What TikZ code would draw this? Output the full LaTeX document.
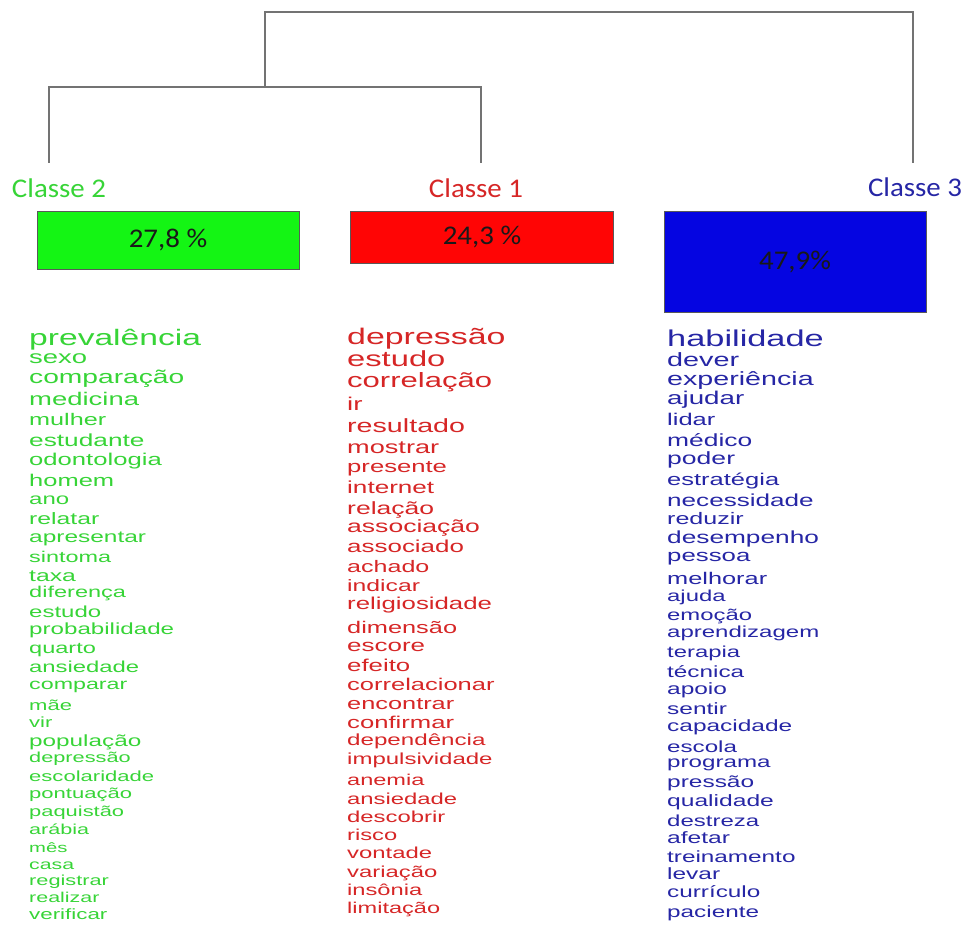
\documentclass[tikz,border=0pt]{standalone}
\usepackage{fontspec}
\newfontfamily\wordfont[FakeStretch=1.5]{Liberation Sans}
\newfontfamily\labelfont[FakeStretch=1.07]{Carlito}
\definecolor{verde}{RGB}{55,212,55}
\definecolor{vermelho}{RGB}{214,38,38}
\definecolor{azul}{RGB}{38,38,165}
\definecolor{boxverde}{RGB}{20,245,20}
\definecolor{boxvermelho}{RGB}{255,5,5}
\definecolor{boxazul}{RGB}{5,5,225}
\definecolor{ramo}{RGB}{115,115,115}
\newcommand{\wsize}[1]{\wordfont\fontsize{#1}{#1}\selectfont}
\tikzset{
  sz/.style={font=\wsize{#1}, yshift={2.15-0.26*#1}},
  classe/.style={font=\labelfont\fontsize{27}{27}\selectfont, inner sep=0pt},
  caixa/.style={draw=black!65, line width=0.8pt, inner sep=0pt,
                font=\labelfont\fontsize{27}{27}\selectfont, text=black!90},
}
\begin{document}
\begin{tikzpicture}[x=1pt,y=-1pt]
\useasboundingbox (0,0) rectangle (964,925);
% dendrogram
\coordinate (d2) at (49,163);
\coordinate (d1) at (481,163);
\coordinate (d3) at (913,163);
\coordinate (j12) at (265,87);
\coordinate (top) at (589,12);
\draw[ramo, line width=1.3pt] (d2) |- (j12) -| (d1);
\draw[ramo, line width=1.3pt] (j12) |- (top) -| (d3);
% classes
\node[classe, text=verde] (c2) at (59,188) {Classe 2};
\node[classe, text=vermelho] (c1) at (476,188) {Classe 1};
\node[classe, text=azul] (c3) at (915,187) {Classe 3};
\node[caixa, fill=boxverde, minimum width=262, minimum height=58] (box2) at (168,240) {27,8 \%};
\node[caixa, fill=boxvermelho, minimum width=263, minimum height=52] (box1) at (482,237) {24,3 \%};
\node[caixa, fill=boxazul, minimum width=262, minimum height=101] (box3) at (795,262) {47,9\%};
% classe 2
\begin{scope}[every node/.style={anchor=mid west, inner sep=0pt, text=verde}]
  \node[sz=22.4] (g1) at (29,340) {prevalência};
  \node[sz=18.3] (g2) at (29,359) {sexo};
  \node[sz=18.8] (g3) at (29,379) {comparação};
  \node[sz=18.3] (g4) at (29,401) {medicina};
  \node[sz=16.8] (g5) at (29,421) {mulher};
  \node[sz=17.5] (g6) at (29,442) {estudante};
  \node[sz=17.1] (g7) at (29,461) {odontologia};
  \node[sz=17] (g8) at (29,482) {homem};
  \node[sz=16] (g9) at (29,500) {ano};
  \node[sz=16.5] (g10) at (29,520) {relatar};
  \node[sz=16.3] (g11) at (29,538) {apresentar};
  \node[sz=15.6] (g12) at (29,558) {sintoma};
  \node[sz=16.5] (g13) at (29,577) {taxa};
  \node[sz=15.7] (g14) at (29,593) {diferença};
  \node[sz=16] (g15) at (29,613) {estudo};
  \node[sz=16.1] (g16) at (29,630) {probabilidade};
  \node[sz=15.7] (g17) at (29,649) {quarto};
  \node[sz=15.9] (g18) at (29,668) {ansiedade};
  \node[sz=15.5] (g19) at (29,685) {comparar};
  \node[sz=14.7] (g20) at (29,707) {mãe};
  \node[sz=14.7] (g21) at (29,724) {vir};
  \node[sz=16.2] (g22) at (29,742) {população};
  \node[sz=14.5] (g23) at (29,759) {depressão};
  \node[sz=14.7] (g24) at (29,778) {escolaridade};
  \node[sz=14.7] (g25) at (29,795) {pontuação};
  \node[sz=14.6] (g26) at (29,813) {paquistão};
  \node[sz=14.4] (g27) at (29,831) {arábia};
  \node[sz=13.5] (g28) at (29,849) {mês};
  \node[sz=14.2] (g29) at (29,866) {casa};
  \node[sz=14.5] (g30) at (29,882) {registrar};
  \node[sz=14.3] (g31) at (29,899) {realizar};
  \node[sz=14.9] (g32) at (29,916) {verificar};
\end{scope}
% classe 1
\begin{scope}[every node/.style={anchor=mid west, inner sep=0pt, text=vermelho}]
  \node[sz=22.6] (r1) at (347,339) {depressão};
  \node[sz=21.8] (r2) at (347,361) {estudo};
  \node[sz=20.7] (r3) at (347,382) {correlação};
  \node[sz=18.5] (r4) at (347,406) {ir};
  \node[sz=19.1] (r5) at (347,428) {resultado};
  \node[sz=18.1] (r6) at (347,449) {mostrar};
  \node[sz=17.1] (r7) at (347,468) {presente};
  \node[sz=17.4] (r8) at (347,489) {internet};
  \node[sz=17.7] (r9) at (347,510) {relação};
  \node[sz=17.7] (r10) at (347,528) {associação};
  \node[sz=17.3] (r11) at (347,548) {associado};
  \node[sz=16.7] (r12) at (347,568) {achado};
  \node[sz=16.5] (r13) at (347,587) {indicar};
  \node[sz=17.2] (r14) at (347,605) {religiosidade};
  \node[sz=16.9] (r15) at (347,629) {dimensão};
  \node[sz=17.3] (r16) at (347,647) {escore};
  \node[sz=17.2] (r17) at (347,667) {efeito};
  \node[sz=17] (r18) at (347,686) {correlacionar};
  \node[sz=16.9] (r19) at (347,705) {encontrar};
  \node[sz=17.1] (r20) at (347,724) {confirmar};
  \node[sz=16.1] (r21) at (347,741) {dependência};
  \node[sz=16] (r22) at (347,760) {impulsividade};
  \node[sz=15.7] (r23) at (347,781) {anemia};
  \node[sz=15.9] (r24) at (347,800) {ansiedade};
  \node[sz=15.9] (r25) at (347,818) {descobrir};
  \node[sz=15.8] (r26) at (347,836) {risco};
  \node[sz=15.9] (r27) at (347,854) {vontade};
  \node[sz=15.9] (r28) at (347,873) {variação};
  \node[sz=15.8] (r29) at (347,891) {insônia};
  \node[sz=15.7] (r30) at (347,909) {limitação};
\end{scope}
% classe 3
\begin{scope}[every node/.style={anchor=mid west, inner sep=0pt, text=azul}]
  \node[sz=22.9] (b1) at (667,341) {habilidade};
  \node[sz=19.2] (b2) at (667,362) {dever};
  \node[sz=19.1] (b3) at (667,381) {experiência};
  \node[sz=18.5] (b4) at (667,400) {ajudar};
  \node[sz=17] (b5) at (667,421) {lidar};
  \node[sz=17.6] (b6) at (667,442) {médico};
  \node[sz=17.7] (b7) at (667,460) {poder};
  \node[sz=17] (b8) at (667,481) {estratégia};
  \node[sz=17.4] (b9) at (667,502) {necessidade};
  \node[sz=16.7] (b10) at (667,520) {reduzir};
  \node[sz=17.5] (b11) at (667,539) {desempenho};
  \node[sz=17.2] (b12) at (667,557) {pessoa};
  \node[sz=16.9] (b13) at (667,580) {melhorar};
  \node[sz=15.9] (b14) at (667,597) {ajuda};
  \node[sz=15.9] (b15) at (667,616) {emoção};
  \node[sz=16] (b16) at (667,633) {aprendizagem};
  \node[sz=15.9] (b17) at (667,653) {terapia};
  \node[sz=16.2] (b18) at (667,673) {técnica};
  \node[sz=16.3] (b19) at (667,690) {apoio};
  \node[sz=16.3] (b20) at (667,710) {sentir};
  \node[sz=16.3] (b21) at (667,727) {capacidade};
  \node[sz=16.1] (b22) at (667,748) {escola};
  \node[sz=16.1] (b23) at (667,763) {programa};
  \node[sz=16.3] (b24) at (667,783) {pressão};
  \node[sz=16.4] (b25) at (667,802) {qualidade};
  \node[sz=16] (b26) at (667,822) {destreza};
  \node[sz=16.4] (b27) at (667,839) {afetar};
  \node[sz=16.2] (b28) at (667,858) {treinamento};
  \node[sz=16.3] (b29) at (667,875) {levar};
  \node[sz=16.2] (b30) at (667,893) {currículo};
  \node[sz=16.2] (b31) at (667,913) {paciente};
\end{scope}
\end{tikzpicture}
\end{document}
